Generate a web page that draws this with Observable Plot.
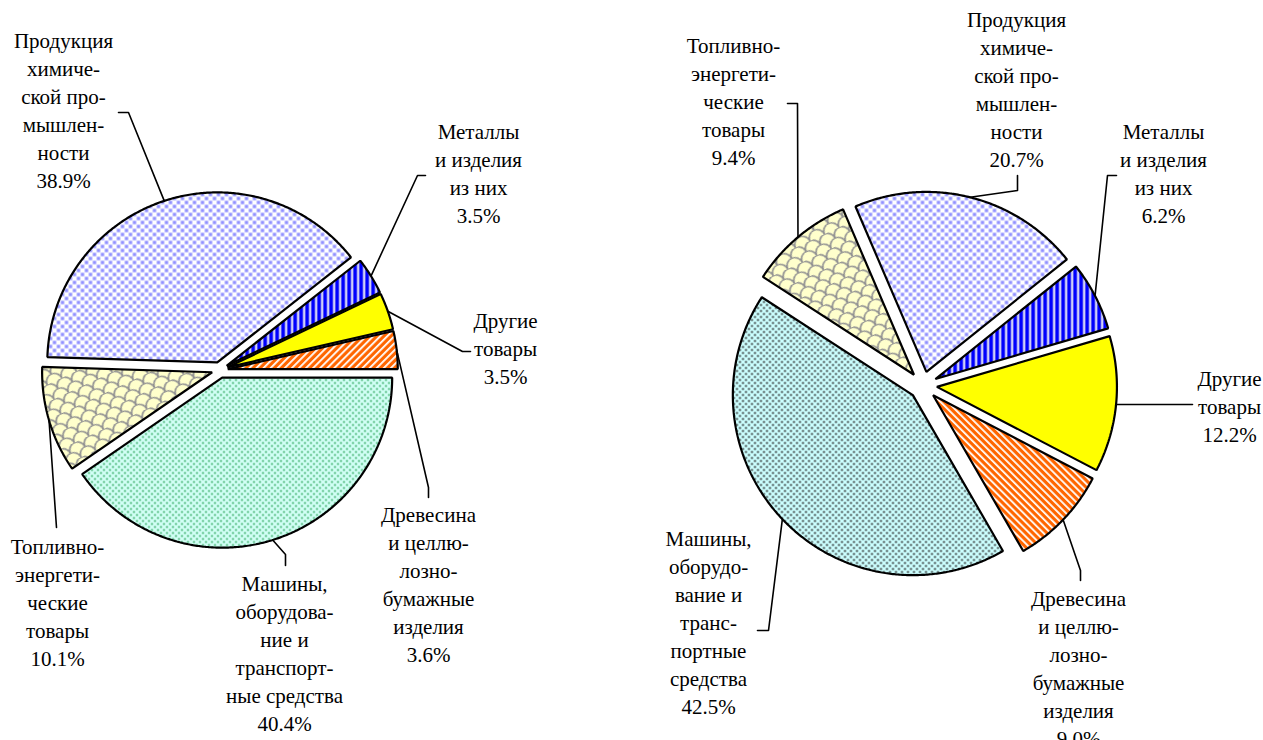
<!DOCTYPE html>
<html>
<head>
<meta charset="utf-8">
<script src="https://cdn.jsdelivr.net/npm/d3@7"></script>
<script src="https://cdn.jsdelivr.net/npm/@observablehq/plot@0.6"></script>
<style>
  html, body { margin: 0; padding: 0; background: #fff; }
  #chart { position: absolute; left: 0; top: 0; }
</style>
</head>
<body>
<svg width="0" height="0" style="position:absolute">
  <defs>
    <pattern id="p-chem" width="8" height="8" patternUnits="userSpaceOnUse">
      <rect width="8" height="8" fill="#ffffff"/>
      <rect x="0.3" y="0.3" width="3.4" height="3.4" fill="#8f8fff"/>
      <rect x="4.3" y="4.3" width="3.4" height="3.4" fill="#8f8fff"/>
    </pattern>
    <pattern id="p-met" width="6" height="6" patternUnits="userSpaceOnUse">
      <rect width="6" height="6" fill="#0000ff"/>
      <rect x="2.4" width="2.4" height="6" fill="#9090e0"/>
      <rect x="2.9" width="1.4" height="6" fill="#ffffff"/>
    </pattern>
    <pattern id="p-wood1" width="5" height="5" patternUnits="userSpaceOnUse" patternTransform="rotate(45)">
      <rect width="5" height="5" fill="#ff6600"/>
      <rect width="1.8" height="5" fill="#ffffff"/>
    </pattern>
    <pattern id="p-wood2" width="5" height="5" patternUnits="userSpaceOnUse" patternTransform="rotate(-45)">
      <rect width="5" height="5" fill="#ff6600"/>
      <rect width="1.8" height="5" fill="#ffffff"/>
    </pattern>
    <pattern id="p-fuel" width="16" height="16" patternUnits="userSpaceOnUse" patternTransform="rotate(-25)">
      <rect width="16" height="16" fill="#ffffcc"/>
      <path d="M0 8 A8 8 0 0 1 16 8 M-8 16 A8 8 0 0 1 8 16 M8 16 A8 8 0 0 1 24 16 M-8 0 A8 8 0 0 1 8 0 M8 0 A8 8 0 0 1 24 0"
            fill="none" stroke="#939393" stroke-width="1.6"/>
    </pattern>
    <pattern id="p-mach1" width="6" height="6" patternUnits="userSpaceOnUse">
      <rect width="6" height="6" fill="#d2fff6"/>
      <circle cx="1.5" cy="1.5" r="0.9" fill="#22a050"/>
      <circle cx="4.5" cy="4.5" r="0.9" fill="#22a050"/>
    </pattern>
    <pattern id="p-mach2" width="6" height="6" patternUnits="userSpaceOnUse">
      <rect width="6" height="6" fill="#ccffff"/>
      <circle cx="1.5" cy="1.5" r="1.1" fill="#2a2a2a"/>
      <circle cx="4.5" cy="4.5" r="1.1" fill="#2a2a2a"/>
    </pattern>
  </defs>
</svg>
<div id="chart"></div>
<script>
// ---------------- DATA ----------------
const categories = [
  "Продукция химической промышленности",
  "Металлы и изделия из них",
  "Другие товары",
  "Древесина и целлюлозно-бумажные изделия",
  "Машины, оборудование и транспортные средства",
  "Топливно-энергетические товары"
];
const valuesLeft  = [38.9, 3.5, 3.5, 3.6, 40.4, 10.1];
const valuesRight = [20.7, 6.2, 12.2, 9.0, 42.5, 9.4];

const labelLinesLeft = [
  "Продукция\nхимиче-\nской про-\nмышлен-\nности",
  "Металлы\nи изделия\nиз них",
  "Другие\nтовары",
  "Древесина\nи целлю-\nлозно-\nбумажные\nизделия",
  "Машины,\nоборудова-\nние и\nтранспорт-\nные средства",
  "Топливно-\nэнергети-\nческие\nтовары"
];
const labelLinesRight = [
  "Продукция\nхимиче-\nской про-\nмышлен-\nности",
  "Металлы\nи изделия\nиз них",
  "Другие\nтовары",
  "Древесина\nи целлю-\nлозно-\nбумажные\nизделия",
  "Машины,\nоборудо-\nвание и\nтранс-\nпортные\nсредства",
  "Топливно-\nэнергети-\nческие\nтовары"
];

// ---------------- STYLE / LAYOUT ----------------
const W = 1263, H = 740;
const FONT = 21, LINE = 28;
const fillsLeft  = ["url(#p-chem)", "url(#p-met)", "#ffff00", "url(#p-wood1)", "url(#p-mach1)", "url(#p-fuel)"];
const fillsRight = ["url(#p-chem)", "url(#p-met)", "#ffff00", "url(#p-wood2)", "url(#p-mach2)", "url(#p-fuel)"];

const pies = [
  {
    values: valuesLeft, lines: labelLinesLeft, fills: fillsLeft,
    cx: 219.3, cy: 369.5, r: 170, explode: 8, start: -88.2,
    anchors: [[63, 42], [478, 133], [505, 322], [428, 516], [284, 585], [57, 548]],
    elbows:  [[128, 112], [417, 175], [462, 351], [428, 487], [285, 554], [56, 527]],
    ends:    [[118, 112], [425, 175], [470, 351], [428, 497], [285, 565], [56, 527]]
  },
  {
    values: valuesRight, lines: labelLinesRight, fills: fillsRight,
    cx: 922.5, cy: 385, r: 180, explode: 14, start: -23.2,
    anchors: [[1016, 21], [1163, 133], [1229, 380], [1078, 600], [708, 540], [733, 47]],
    elbows:  [[1017, 190], [1107, 175], [1192, 404], [1080, 570], [768, 630], [797, 103]],
    ends:    [[1017, 175], [1116, 175], [1192, 404], [1080, 580], [757, 630], [787, 103]]
  }
];

// ---------------- GEOMETRY FROM DATA ----------------
const slicePts = [], leaderPts = [], labels = [];
pies.forEach((p, pi) => {
  const a0 = p.start * Math.PI / 180;
  const arcs = d3.pie().sort(null).value(d => d).startAngle(a0).endAngle(a0 + 2 * Math.PI)(p.values);
  arcs.forEach((a, i) => {
    const key = pi + "-" + i;
    const mid = (a.startAngle + a.endAngle) / 2;
    const ax = p.cx + p.explode * Math.sin(mid);
    const ay = p.cy - p.explode * Math.cos(mid);
    slicePts.push({key, x: ax, y: ay, fill: p.fills[i]});
    const n = Math.max(2, Math.ceil((a.endAngle - a.startAngle) / (Math.PI / 360)));
    for (let k = 0; k <= n; k++) {
      const t = a.startAngle + (a.endAngle - a.startAngle) * k / n;
      slicePts.push({key, x: ax + p.r * Math.sin(t), y: ay - p.r * Math.cos(t), fill: p.fills[i]});
    }
    leaderPts.push({key, x: ax + p.r * Math.sin(mid), y: ay - p.r * Math.cos(mid)});
    leaderPts.push({key, x: p.elbows[i][0], y: p.elbows[i][1]});
    leaderPts.push({key, x: p.ends[i][0], y: p.ends[i][1]});
    labels.push({
      x: p.anchors[i][0],
      y: p.anchors[i][1] - 14,
      text: p.lines[i] + "\n" + a.data.toFixed(1) + "%"
    });
  });
});

const chart = Plot.plot({
  width: W, height: H, margin: 0,
  x: {domain: [0, W], range: [0, W], axis: null},
  y: {domain: [0, H], range: [0, H], axis: null},
  color: {type: "identity"},
  style: {background: "#ffffff"},
  marks: [
    Plot.line(leaderPts, {x: "x", y: "y", z: "key", stroke: "#000000", strokeWidth: 1.6, curve: "linear"}),
    Plot.line(slicePts, {x: "x", y: "y", z: "key", fill: "fill", stroke: "#000000", strokeWidth: 2.2, curve: "linear-closed", strokeLinejoin: "miter"}),
    Plot.text(labels, {
      x: "x", y: "y", text: "text",
      textAnchor: "middle", lineAnchor: "top", lineHeight: LINE / FONT,
      fontSize: FONT, fontFamily: "Liberation Serif", fill: "#000000"
    })
  ]
});
document.getElementById("chart").appendChild(chart);
</script>
</body>
</html>
